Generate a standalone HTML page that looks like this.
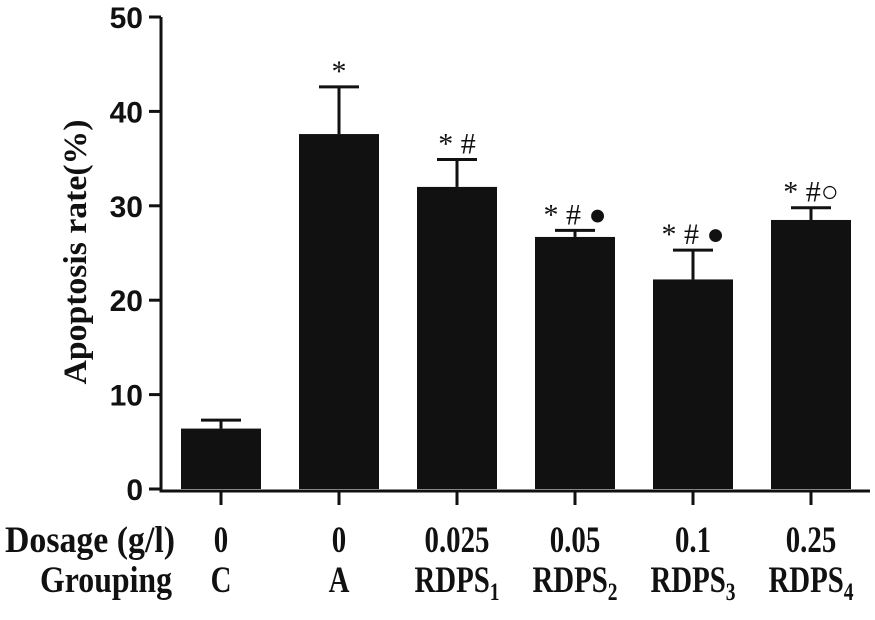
<!DOCTYPE html>
<html><head><meta charset="utf-8"><style>
html,body{margin:0;padding:0;background:#fff;}
svg{display:block;}
.lab{font-family:"Liberation Serif",serif;font-weight:bold;fill:#111;}
.tick{font-family:"Liberation Sans",sans-serif;font-weight:bold;fill:#111;font-size:30px;}
.mark{font-family:"Liberation Serif","DejaVu Serif",serif;fill:#111;font-size:30px;}
</style></head><body>
<svg id="chart" width="875" height="620" viewBox="0 0 875 620" xmlns="http://www.w3.org/2000/svg">
<text class="lab" transform="translate(86,252) rotate(-90)" text-anchor="middle" font-size="33" textLength="265" lengthAdjust="spacingAndGlyphs">Apoptosis rate(%)</text>
<text class="lab" x="5" y="552" font-size="37" textLength="170" lengthAdjust="spacingAndGlyphs">Dosage (g/l)</text>
<text class="lab" x="40" y="592" font-size="37" textLength="132" lengthAdjust="spacingAndGlyphs">Grouping</text>
<g id="plot"></g>
</svg>
<script>
const categories = ["C","A","RDPS1","RDPS2","RDPS3","RDPS4"];
const dosages = ["0","0","0.025","0.05","0.1","0.25"];
const groupNames = ["C","A","RDPS","RDPS","RDPS","RDPS"];
const groupSubs = ["","","1","2","3","4"];
const values = [6.4, 37.6, 32.0, 26.7, 22.2, 28.5];
const errors = [0.9, 5.0, 2.9, 0.7, 3.1, 1.3];
const marks = ["", "*", "* #", "* # ●", "* # ●", "* #○"];
const yTicks = [0,10,20,30,40,50];

const svg = document.getElementById('plot');
const NS = "http://www.w3.org/2000/svg";
const x0 = 162, bandW = 118, barW = 80;
function y(v){ return 489 - v * 9.44; }
function xc(i){ return x0 + bandW/2 + i*bandW; }
function mk(tag, attrs){ const e=document.createElementNS(NS,tag); for(const k in attrs) e.setAttribute(k,attrs[k]); svg.appendChild(e); return e; }

let ax = mk('path',{d:`M161 ${y(50)} V${y(0)+2} H${x0+bandW*6}`,stroke:'#111','stroke-width':3,fill:'none'});



yTicks.forEach(t=>{
  const l = mk('line',{x1:149,x2:161,y1:y(t),y2:y(t),stroke:'#111','stroke-width':3});
  
  
  const tx = mk('text',{x:143,y:y(t)+11,'text-anchor':'end',class:'tick'});
  tx.textContent = t;
  
  
});

categories.forEach((c,i)=>{
  const cx = xc(i);
  const top = y(values[i]), etop = y(values[i]+errors[i]);
  const ev = mk('line',{x1:cx,x2:cx,y1:etop,y2:top,stroke:'#111','stroke-width':3});
  
  
  const eh = mk('line',{x1:cx-20,x2:cx+20,y1:etop,y2:etop,stroke:'#111','stroke-width':3});
  
  
  const b = mk('rect',{x:cx-barW/2,y:top,width:barW,height:y(0)-top,fill:'#111'});
  
  
  const tk = mk('line',{x1:cx,x2:cx,y1:y(0)+2,y2:y(0)+16,stroke:'#111','stroke-width':3});
  
  
  if(marks[i]){
    const m = mk('text',{x:cx,y:etop-6,'text-anchor':'middle',class:'mark'});
    m.textContent = marks[i];
    
    
  }
  const d = mk('text',{transform:`translate(${cx},552) scale(0.78,1)`,x:0,y:0,'text-anchor':'middle',class:'lab','font-size':37});
  d.textContent = dosages[i];
  
  
  const g = mk('text',{transform:`translate(${cx},592) scale(0.78,1)`,x:0,y:0,'text-anchor':'middle',class:'lab','font-size':37});
  
  
  const s1 = document.createElementNS(NS,'tspan'); s1.textContent = groupNames[i]; g.appendChild(s1);
  if(groupSubs[i]){
    const s2 = document.createElementNS(NS,'tspan'); s2.setAttribute('font-size','25'); s2.setAttribute('dy','8'); s2.textContent = groupSubs[i]; g.appendChild(s2);
  }
});
</script>
</body></html>
